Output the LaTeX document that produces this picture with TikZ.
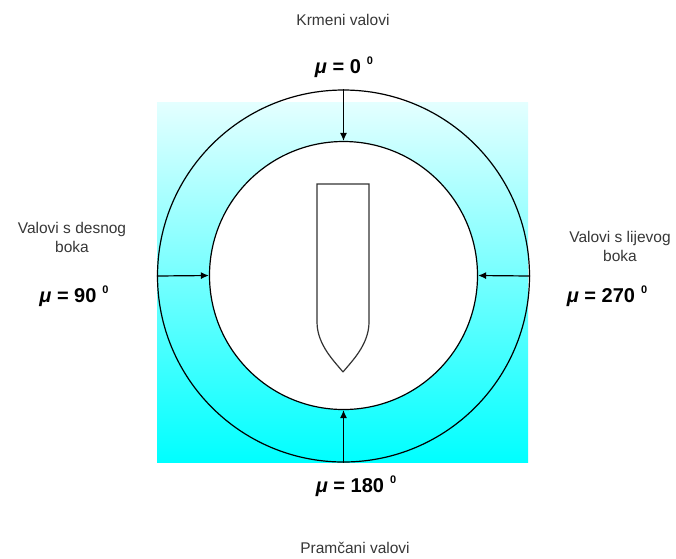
\documentclass[tikz,border=0pt]{standalone}
\usepackage{fontspec}
\setmainfont{Liberation Sans}
\usetikzlibrary{arrows.meta}
\definecolor{lightcy}{RGB}{228,255,255}
\definecolor{fullcy}{RGB}{0,255,255}
\definecolor{lblgray}{RGB}{55,55,55}
\tikzset{
  lbl/.style={font=\fontsize{15.5}{19}\selectfont, text=lblgray, align=center, inner sep=0pt},
  mulbl/.style={font=\fontsize{20}{24}\selectfont\bfseries, text=black, inner sep=0pt},
  ring/.style={circle, draw=black, line width=1.2pt, inner sep=0pt},
  wave/.style={draw=black, line width=1.2pt, -{Latex[length=8pt,width=7pt]}},
  hull/.style={draw=black!80, line width=1.2pt}
}
\newcommand{\mudeg}[1]{\textit{μ} = #1\hspace{0.3em}\raisebox{0.45em}{\fontsize{11}{12}\selectfont 0}}
\begin{document}
\begin{tikzpicture}[x=1pt,y=-1pt]
\useasboundingbox (0,0) rectangle (676,558);
% gradient background
\shade[top color=lightcy, bottom color=fullcy] (157,102) rectangle (528,462);
% rings
\node[ring, minimum size=372pt] (outer) at (343.5,276) {};
\node[ring, fill=white, minimum size=268pt] (inner) at (343.5,275.5) {};
% ship hull
\draw[hull] (343,372) .. controls (335,362) and (317,345) .. (317,322)
  -- (317,184) -- (369,184) -- (369,322)
  .. controls (369,345) and (351,362) .. (343,372);
% wave arrows
\draw[wave] (outer.north) -- (inner.north);
\draw[wave] (outer.west) -- (inner.west);
\draw[wave] (outer.east) -- (inner.east);
\draw[wave] (outer.south) -- (inner.south);
% labels
\node[lbl] (krm) at (343,20) {Krmeni valovi};
\node[mulbl] (m0) at (344,67) {\mudeg{0}};
\node[lbl] (des) at (72,237) {Valovi s desnog\\boka};
\node[mulbl] (m90) at (74,296) {\mudeg{90}};
\node[lbl] (lij) at (620,246) {Valovi s lijevog\\boka};
\node[mulbl] (m270) at (607,296) {\mudeg{270}};
\node[mulbl] (m180) at (356,486) {\mudeg{180}};
\node[lbl] (pra) at (355,548) {Pramčani valovi};
\end{tikzpicture}
\end{document}
